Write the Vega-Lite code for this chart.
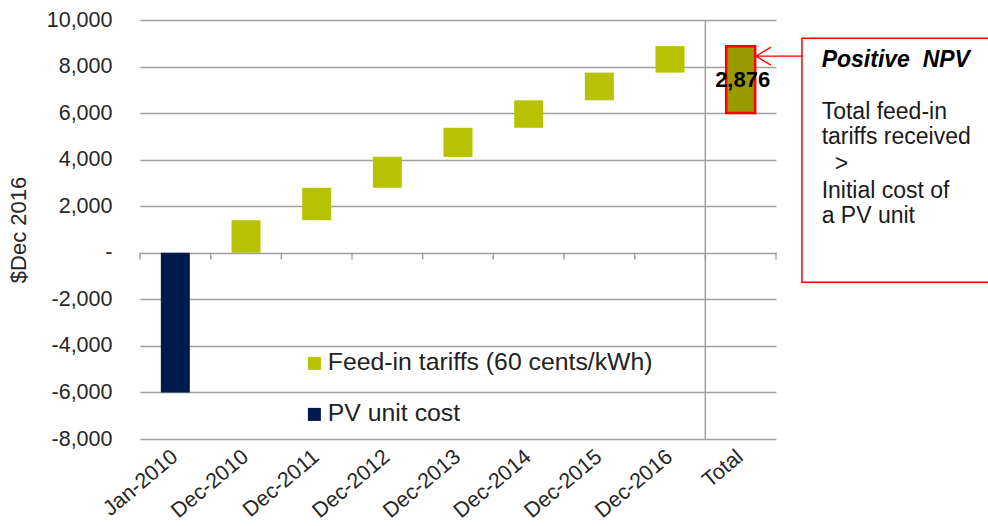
{
  "$schema": "https://vega.github.io/schema/vega-lite/v6.json",
  "width": 636,
  "height": 419,
  "autosize": {"type": "none"},
  "padding": {"left": 140, "top": 20, "right": 212, "bottom": 87},
  "background": "white",
  "config": {"view": {"stroke": null}, "font": "Liberation Sans"},
  "data": {
    "values": [
      {"cat": "Jan-2010", "series": "PV unit cost", "start": 0, "end": -6000},
      {"cat": "Dec-2010", "series": "Feed-in tariffs (60 cents/kWh)", "start": 0, "end": 1400},
      {"cat": "Dec-2011", "series": "Feed-in tariffs (60 cents/kWh)", "start": 1400, "end": 2790},
      {"cat": "Dec-2012", "series": "Feed-in tariffs (60 cents/kWh)", "start": 2790, "end": 4120},
      {"cat": "Dec-2013", "series": "Feed-in tariffs (60 cents/kWh)", "start": 4120, "end": 5370},
      {"cat": "Dec-2014", "series": "Feed-in tariffs (60 cents/kWh)", "start": 5370, "end": 6550},
      {"cat": "Dec-2015", "series": "Feed-in tariffs (60 cents/kWh)", "start": 6550, "end": 7740},
      {"cat": "Dec-2016", "series": "Feed-in tariffs (60 cents/kWh)", "start": 7740, "end": 8876},
      {"cat": "Total", "series": "Total", "start": 6000, "end": 8876}
    ]
  },
  "layer": [
    {
      "data": {"values": [{"cat": "Total"}]},
      "mark": {"type": "rule", "color": "#a0a0a0", "strokeWidth": 1.5},
      "encoding": {
        "x": {"field": "cat", "type": "ordinal", "bandPosition": 0}
      }
    },
    {
      "mark": {"type": "bar", "width": {"band": 0.41}},
      "transform": [{"filter": "datum.cat !== 'Total'"}],
      "encoding": {
        "x": {
          "field": "cat", "type": "ordinal", "sort": null,
          "scale": {"domain": ["Jan-2010", "Dec-2010", "Dec-2011", "Dec-2012", "Dec-2013", "Dec-2014", "Dec-2015", "Dec-2016", "Total"], "paddingInner": 0, "paddingOuter": 0},
          "axis": {"title": null, "labelAngle": -40, "labelFontSize": 21.5, "labelColor": "#262626", "domain": false, "ticks": false, "labelPadding": 15}
        },
        "y": {
          "field": "start", "type": "quantitative",
          "scale": {"domain": [-8000, 10000], "nice": false, "zero": false},
          "axis": {
            "title": "$Dec 2016", "titleFontSize": 22, "titleFontWeight": "normal", "titleColor": "#262626", "titlePadding": 16,
            "values": [-8000, -6000, -4000, -2000, 0, 2000, 4000, 6000, 8000, 10000],
            "labelExpr": "datum.value == 0 ? '-\u00a0\u00a0' : (datum.value < 0 ? '-' : '') + format(abs(datum.value), ',')",
            "labelFontSize": 21.5, "labelColor": "#262626", "labelPadding": 28, "ticks": false, "domain": false,
            "grid": true, "gridColor": "#a0a0a0", "gridWidth": 1.5
          }
        },
        "y2": {"field": "end"},
        "color": {
          "field": "series", "type": "nominal",
          "scale": {"domain": ["Feed-in tariffs (60 cents/kWh)", "PV unit cost"], "range": ["#b7c300", "#001a4d"]},
          "legend": {
            "title": null, "orient": "none", "legendX": 162, "legendY": 331,
            "symbolType": "square", "symbolSize": 169, "symbolStrokeWidth": 0,
            "labelFontSize": 24.8, "labelColor": "#222222", "labelOffset": 1, "rowPadding": 25, "labelLimit": 500
          }
        }
      }
    },
    {
      "mark": {"type": "tick", "orient": "vertical", "size": 7, "thickness": 1.5, "color": "#a0a0a0", "opacity": 1},
      "encoding": {
        "x": {"field": "cat", "type": "ordinal", "bandPosition": 0},
        "y": {"datum": -140}
      }
    },
    {
      "data": {"values": [{"cat": "Total"}]},
      "mark": {"type": "tick", "orient": "vertical", "size": 7, "thickness": 1.5, "color": "#a0a0a0", "opacity": 1},
      "encoding": {
        "x": {"field": "cat", "type": "ordinal", "bandPosition": 1},
        "y": {"datum": -140}
      }
    },
    {
      "mark": {"type": "bar", "width": {"band": 0.41}, "fill": "#9a9a00", "stroke": "#ff0000", "strokeWidth": 2.5},
      "transform": [{"filter": "datum.cat === 'Total'"}],
      "encoding": {
        "x": {"field": "cat", "type": "ordinal"},
        "y": {"field": "start", "type": "quantitative"},
        "y2": {"field": "end"}
      }
    },
    {
      "data": {"values": [{"cat": "Total", "label": "2,876"}]},
      "mark": {"type": "text", "fontSize": 22, "fontWeight": "bold", "color": "#000000", "align": "center", "baseline": "alphabetic", "dx": 2},
      "encoding": {
        "x": {"field": "cat", "type": "ordinal"},
        "y": {"datum": 7110},
        "text": {"field": "label"}
      }
    },
    {
      "data": {"values": [{"cat": "Total"}]},
      "mark": {"type": "point", "shape": "M -9.4 -12.2 H 9.4 V 12.2 H -9.4 Z", "size": 400, "filled": false, "color": "#ff0000", "strokeWidth": 1.5, "opacity": 1, "xOffset": 155.3},
      "encoding": {
        "x": {"field": "cat", "type": "ordinal"},
        "y": {"datum": 3978}
      }
    },
    {
      "data": {"values": [{"cat": "Total"}]},
      "mark": {"type": "point", "shape": "M 0 0 L 4.7 0 M 1.5 -0.9 L 0 0 L 1.5 0.9", "size": 400, "filled": false, "color": "#ff0000", "strokeWidth": 1.3, "opacity": 1, "xOffset": 15.3},
      "encoding": {
        "x": {"field": "cat", "type": "ordinal"},
        "y": {"datum": 8448}
      }
    },
    {
      "data": {"values": [{"cat": "Total", "t": "Positive\u00a0\u00a0NPV"}]},
      "mark": {"type": "text", "fontSize": 23, "fontWeight": "bold", "fontStyle": "italic", "color": "#000000", "align": "left", "baseline": "alphabetic", "dx": 81},
      "encoding": {
        "x": {"field": "cat", "type": "ordinal"},
        "y": {"datum": 8000},
        "text": {"field": "t"}
      }
    },
    {
      "data": {"values": [
        {"cat": "Total", "t": ["Total feed-in", "tariffs received"], "at": 5733},
        {"cat": "Total", "t": ["Initial cost of", "a PV unit"], "at": 2353}
      ]},
      "mark": {"type": "text", "fontSize": 23, "color": "#1a1a1a", "align": "left", "baseline": "alphabetic", "dx": 81, "lineHeight": 25},
      "encoding": {
        "x": {"field": "cat", "type": "ordinal"},
        "y": {"field": "at", "type": "quantitative"},
        "text": {"field": "t"}
      }
    },
    {
      "data": {"values": [{"cat": "Total", "t": ">"}]},
      "mark": {"type": "text", "fontSize": 23, "color": "#1a1a1a", "align": "left", "baseline": "alphabetic", "dx": 94},
      "encoding": {
        "x": {"field": "cat", "type": "ordinal"},
        "y": {"datum": 3526},
        "text": {"field": "t"}
      }
    }
  ]
}
